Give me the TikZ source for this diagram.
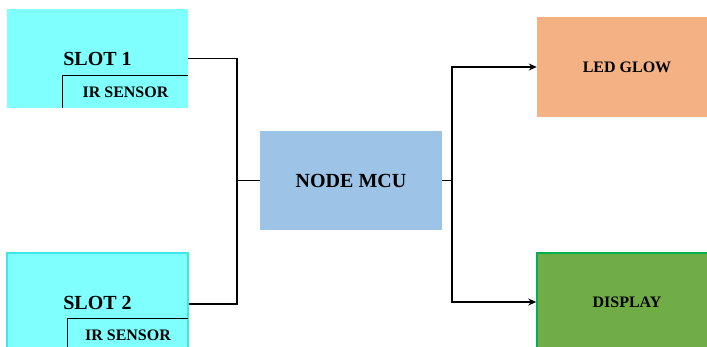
\documentclass[tikz,border=0pt]{standalone}
\usepackage{fontspec}
\setmainfont{Liberation Serif}
\usetikzlibrary{arrows.meta}
\definecolor{slotc}{HTML}{80FFFF}
\definecolor{slotb}{HTML}{3FE8E8}
\definecolor{mcuc}{HTML}{9DC3E6}
\definecolor{ledc}{HTML}{F4B183}
\definecolor{dispc}{HTML}{70AD47}
\definecolor{dispb}{HTML}{00B050}
\tikzset{
  box/.style={inner sep=0pt, font=\bfseries},
  big/.style={font=\bfseries\fontsize{20}{24}\selectfont},
  small/.style={font=\bfseries\fontsize{16}{19}\selectfont},
  wire/.style={line width=1.3pt, black, line join=miter},
  tip/.tip={Stealth[length=8pt,width=7pt]},
}
\begin{document}
\begin{tikzpicture}[x=1pt,y=-1pt]
\useasboundingbox (0,0) rectangle (707,347);
\clip (0,0) rectangle (707,347);
\fill[white] (0,0) rectangle (707,347);
% slots
\node[box, big, fill=slotc, minimum width=181pt, minimum height=99pt] (s1) at (97.5,58.5) {SLOT 1};
\node[box, big, fill=slotc, draw=slotb, line width=1.5pt, minimum width=181pt, minimum height=100pt] (s2) at (97.5,303) {SLOT 2};
\node[box, small, minimum width=125pt, minimum height=32pt] (ir1) at (125.5,92) {IR SENSOR};
\node[box, small, minimum width=120pt, minimum height=32pt] (ir2) at (128,335) {IR SENSOR};
\draw[wire] (ir1.south west) |- (ir1.north east);
\draw[wire] (ir2.south west) |- (ir2.north east);
% MCU
\node[box, big, fill=mcuc, minimum width=182pt, minimum height=99pt] (mcu) at (351,180.5) {NODE MCU};
% outputs
\node[box, small, fill=ledc, minimum width=180pt, minimum height=100pt] (led) at (627,67) {LED GLOW};
\node[box, small, fill=dispc, draw=dispb, line width=1.5pt, minimum width=180pt, minimum height=98pt] (disp) at (627,302) {DISPLAY};
% wires
\coordinate (jl) at (237,180.5);
\coordinate (jr) at (452,180.5);
\draw[wire] (s1.east) -| (jl) |- ([yshift=-1pt]s2.east);
\draw[wire] (jl) -- (mcu.west);
\draw[wire] (mcu.east) -- (jr);
\draw[wire, tip-tip] (led.west) -| (jr) |- (disp.west);
\end{tikzpicture}
\end{document}
